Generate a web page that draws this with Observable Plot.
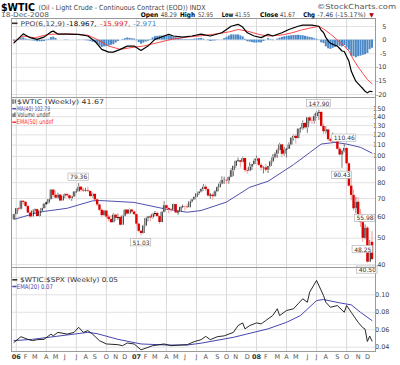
<!DOCTYPE html>
<html><head><meta charset="utf-8">
<script src="https://cdn.jsdelivr.net/npm/d3@7"></script>
<script src="https://cdn.jsdelivr.net/npm/@observablehq/plot@0.6"></script>
<style>
html,body{margin:0;padding:0;background:#fff}
#chart{position:relative;width:400px;height:365px;overflow:hidden;background:#fff;font-family:"DejaVu Sans",Verdana,sans-serif}
#chart svg{position:absolute;left:0}
</style></head>
<body><div id="chart"></div>
<script>
// ---------- DATA (weekly bars, Fri 2005-12-30 .. Fri 2008-12-19) ----------
const openP = [58.50,61.04,64.21,63.92,68.35,67.76,65.37,61.84,59.88,62.91,
63.67,60.08,62.82,64.26,66.63,67.39,69.32,75.17,71.88,70.19,
72.04,68.53,71.37,72.33,71.63,69.89,70.87,73.93,74.09,77.03,
75.07,74.54,74.76,74.35,71.14,72.51,69.20,66.25,63.33,60.55,
62.91,59.76,58.57,57.02,60.75,59.14,59.58,55.81,60.27,63.43,
61.37,63.43,62.41,61.05,56.31,52.99,52.02,55.42,59.02,59.89,
59.39,61.14,61.64,60.05,57.11,62.28,65.87,64.28,63.63,63.38,
66.46,61.93,62.37,64.94,65.20,65.08,64.76,68.00,69.18,70.68,
72.81,73.93,75.57,77.02,75.48,71.47,71.98,71.09,74.04,76.70,
79.10,81.62,81.66,81.22,83.69,88.60,91.86,95.93,96.32,95.10,
98.18,88.71,88.28,91.27,93.31,96.00,97.91,92.69,90.57,90.71,
88.96,91.77,95.50,98.81,101.84,105.15,110.21,101.84,105.62,106.23,
110.14,116.69,118.52,116.32,125.96,126.29,132.19,127.35,138.54,134.86,
134.62,140.21,144.29,145.08,128.88,123.26,125.10,115.20,113.77,114.59,
115.46,106.23,101.18,104.55,106.89,93.88,77.70,71.85,64.15,67.81,
61.04,57.04,49.93,54.43,40.81,48.29];
const highP = [61.20,64.40,64.80,68.80,68.70,68.10,65.80,62.40,63.40,64.10,
63.90,63.20,64.50,67.10,68.00,69.50,75.35,75.20,74.40,73.20,
72.30,71.80,73.00,73.20,71.90,71.40,74.10,75.80,79.36,77.30,
76.20,76.40,77.20,74.50,73.30,72.80,69.70,66.60,64.20,63.40,
63.00,60.80,60.40,61.60,61.20,61.40,60.30,60.70,63.80,63.60,
64.00,63.90,62.90,61.30,56.70,53.40,55.80,59.30,60.10,60.70,
61.70,62.70,62.40,60.20,62.60,68.10,66.20,64.90,64.40,66.90,
66.60,63.00,65.20,66.20,65.70,66.70,68.20,69.50,70.90,72.90,
74.10,76.00,78.77,78.30,75.90,73.00,72.60,74.80,77.40,80.20,
84.10,83.90,81.90,84.10,90.07,92.22,96.24,98.62,96.70,99.29,
98.40,90.50,94.70,93.60,97.80,100.09,98.40,94.40,91.60,93.50,
92.00,96.10,101.32,103.05,106.54,111.80,110.70,108.00,107.00,112.21,
117.00,119.93,120.00,126.20,127.80,135.09,133.00,139.12,139.90,139.40,
142.99,145.85,147.90,146.40,131.60,128.40,125.60,116.50,121.80,120.00,
116.20,107.80,105.00,110.46,107.20,94.70,83.50,75.20,70.80,70.60,
63.80,58.80,55.98,55.10,49.00,52.95];
const lowP = [58.20,60.90,62.60,63.40,66.30,64.90,61.60,59.20,59.50,61.70,
59.90,59.60,61.80,63.90,65.90,66.80,69.10,70.50,69.90,69.60,
68.00,68.30,69.90,70.40,68.90,68.30,70.60,72.90,73.80,73.80,
73.70,73.90,73.60,70.60,70.30,68.80,65.30,62.80,59.50,60.20,
58.90,57.50,56.60,56.90,57.60,58.20,55.40,55.60,59.90,60.80,
61.00,61.60,60.50,55.10,52.40,51.03,51.60,55.00,57.40,57.50,
58.80,60.00,59.70,56.30,56.90,61.90,63.60,61.40,62.40,63.10,
61.70,60.70,62.10,64.20,63.00,64.00,64.50,67.30,68.80,70.20,
71.80,73.40,74.50,74.30,70.90,69.50,69.00,70.80,73.60,76.40,
78.60,78.90,78.80,79.00,83.40,84.30,90.40,94.80,90.60,94.70,
87.20,86.10,87.70,88.70,92.90,95.60,91.80,88.50,86.11,87.50,
86.50,91.00,94.50,97.90,98.30,104.60,98.70,100.00,98.70,105.90,
109.40,114.00,111.00,115.90,121.60,124.60,125.60,121.60,131.50,131.00,
131.40,138.40,135.50,128.20,120.40,121.00,113.60,111.30,112.20,113.20,
105.50,100.40,90.43,103.10,93.10,77.10,68.60,63.00,61.50,60.70,
54.70,48.25,49.30,40.50,40.80,41.55];
const closeP = [61.04,64.21,63.92,68.35,67.76,65.37,61.84,59.88,62.91,63.67,
60.08,62.82,64.26,66.63,67.39,69.32,75.17,71.88,70.19,72.04,
68.53,71.37,72.33,71.63,69.89,70.87,73.93,74.09,77.03,75.07,
74.54,74.76,74.35,71.14,72.51,69.20,66.25,63.33,60.55,62.91,
59.76,58.57,57.02,60.75,59.14,59.58,55.81,60.27,63.43,61.37,
63.43,62.41,61.05,56.31,52.99,52.02,55.42,59.02,59.89,59.39,
61.14,61.64,60.05,57.11,62.28,65.87,64.28,63.63,63.38,66.46,
61.93,62.37,64.94,65.20,65.08,64.76,68.00,69.18,70.68,72.81,
73.93,75.57,77.02,75.48,71.47,71.98,71.09,74.04,76.70,79.10,
81.62,81.66,81.22,83.69,88.60,91.86,95.93,96.32,95.10,98.18,
88.71,88.28,91.27,93.31,96.00,97.91,92.69,90.57,90.71,88.96,
91.77,95.50,98.81,101.84,105.15,110.21,101.84,105.62,106.23,110.14,
116.69,118.52,116.32,125.96,126.29,132.19,127.35,138.54,134.86,134.62,
140.21,144.29,145.08,128.88,123.26,125.10,115.20,113.77,114.59,115.46,
106.23,101.18,104.55,106.89,93.88,77.70,71.85,64.15,67.81,61.04,
57.04,49.93,54.43,40.81,46.28,41.67];

// MA(40): [week index, value]
const ma40 = [[0,58.6],[11,62.4],[23,64.4],[34,68.6],[37,68.8],[52,67.7],[66,63.9],[75,62.3],[81,63.2],[92,67.9],[102,76.9],[110,81.0],[121,93.2],[128,103.2],[133,111.0],[139,112.6],[144,111.0],[150,108.0],[155,102.79]];

// PPO(6,12,9)
const ppoLine = [[0,-1.0],[4,2.3],[7,0.9],[10,0.25],[13,1.1],[16,3.0],[17,3.3],[19,2.2],[23,2.2],[28,2.1],[32,1.5],[35,-0.4],[38,-3.4],[41,-4.4],[43,-4.4],[46,-3.4],[49,-2.2],[52,-2.2],[55,-3.8],[58,-2.2],[61,0.25],[65,1.5],[67,2.1],[69,1.5],[73,1.1],[77,1.5],[81,2.2],[85,1.5],[90,2.7],[94,5.1],[97,5.8],[99,4.8],[101,2.7],[104,1.5],[107,0.9],[110,2.1],[112,1.5],[116,2.7],[119,3.9],[123,5.1],[125,5.5],[129,5.5],[132,5.1],[133,3.6],[134,2.8],[135,1.0],[136,-0.3],[137,-1.2],[138,-1.5],[139,-1.9],[140,-2.2],[141,-3.1],[142,-4.0],[143,-4.2],[144,-6.0],[145,-7.7],[146,-11.4],[147,-13.3],[148,-15.1],[149,-16.0],[150,-16.9],[151,-17.8],[152,-18.8],[153,-19.4],[154,-18.8],[155,-18.967]];
const ppoSignal = [[0,-0.6],[4,1.5],[9,0.85],[15,2.1],[18,2.2],[23,2.3],[32,1.8],[36,0.25],[41,-2.2],[46,-3.4],[52,-2.6],[56,-2.2],[62,-1.0],[68,0.25],[75,1.1],[81,1.6],[86,2.1],[93,3.0],[97,3.9],[101,3.3],[106,2.1],[110,1.5],[116,1.9],[120,2.6],[124,3.6],[128,4.4],[131,4.9],[132,5.0],[133,4.6],[134,4.1],[135,3.5],[137,2.2],[139,0.8],[141,-0.8],[143,-2.2],[145,-4.0],[147,-7.2],[149,-9.9],[151,-12.2],[153,-14.5],[154,-15.3],[155,-15.997]];
const ppoHist = [-0.4,-0.1,0.3,0.5,0.8,0.4,0.2,-0.2,-0.3,-0.35,
-0.6,-0.6,-0.6,-0.5,-0.2,0.3,0.9,1.1,0.6,0.0,
0.0,0.0,-0.1,-0.1,0.0,0.0,0.0,0.05,0.1,0.05,
-0.1,-0.2,-0.3,-0.5,-0.8,-1.0,-1.6,-2.2,-2.7,-2.5,
-2.4,-2.2,-1.9,-1.7,-1.1,-0.5,0.0,0.25,0.5,0.8,
0.65,0.5,0.4,-0.2,-0.9,-1.5,-1.1,-0.7,-0.4,0.2,
0.8,1.3,1.4,1.5,1.5,1.5,1.5,1.5,1.3,1.1,
0.9,0.7,0.45,0.2,0.2,0.2,0.2,0.2,0.3,0.45,
0.55,0.6,0.3,0.05,-0.2,-0.5,-0.35,-0.25,-0.15,-0.05,
0.1,0.55,1.0,1.5,1.9,1.9,1.9,1.9,1.55,1.2,
0.3,-0.6,-0.75,-0.9,-1.1,-1.05,-1.0,-1.05,-0.5,0.05,
0.6,0.2,-0.2,0.0,0.4,0.7,1.0,1.2,1.4,1.5,
1.6,1.7,1.7,1.8,1.7,1.6,1.4,1.2,1.0,0.8,
0.5,0.3,0.1,-1.0,-1.3,-2.5,-3.2,-3.4,-3.0,-2.7,
-2.2,-2.3,-2.5,-2.0,-2.9,-3.7,-5.9,-6.1,-6.5,-6.1,
-5.9,-5.6,-5.4,-4.9,-3.5,-2.971];

// $WTIC:$SPX ratio and EMA(20)
const ratioLine = [[0,0.0455],[3,0.052],[6,0.049],[8,0.0475],[10,0.0486],[13,0.049],[16,0.055],[17,0.053],[19,0.057],[23,0.055],[26,0.057],[28,0.0628],[30,0.057],[32,0.059],[34,0.055],[37,0.0475],[40,0.0437],[45,0.0429],[47,0.0417],[49,0.0448],[52,0.0437],[55,0.037],[58,0.0398],[60,0.0417],[65,0.0437],[68,0.0417],[72,0.0425],[75,0.0429],[78,0.0463],[81,0.0486],[83,0.0524],[85,0.0486],[88,0.052],[91,0.053],[95,0.057],[97,0.0647],[99,0.0678],[100,0.061],[102,0.0647],[105,0.0678],[107,0.0667],[109,0.0705],[112,0.0762],[114,0.084],[115,0.0762],[118,0.082],[121,0.084],[123,0.0897],[125,0.0954],[127,0.0915],[128,0.103],[131,0.1164],[134,0.0992],[135,0.0915],[137,0.0857],[140,0.0877],[143,0.08],[144,0.0877],[146,0.08],[149,0.0685],[151,0.0624],[152,0.0607],[153,0.0466],[154,0.0527],[155,0.047]];
const ratioEma = [[0,0.0475],[8,0.049],[23,0.054],[32,0.057],[36,0.0555],[45,0.049],[55,0.0437],[66,0.0425],[75,0.0425],[81,0.0446],[95,0.0513],[110,0.061],[118,0.0685],[124,0.0762],[131,0.0934],[134,0.0946],[141,0.0908],[146,0.0885],[150,0.080],[155,0.0705]];

// swing-point annotations
const swingWeeks  = [28, 55, 132, 143, 142, 152, 151, 153];
const swingValues = [79.36, 51.03, 147.90, 110.46, 90.43, 55.98, 48.25, 40.50];
const swingSide   = ["H","L","H","H","L","H","L","L"];

// ticks
const ppoTicks = [5, 0, -5, -10, -15, -20];
const priceTicks = [40, 50, 60, 70, 80, 90, 100, 110, 120, 130, 140, 150];
const ratioTicks = [0.04, 0.06, 0.08, 0.10];
const ratioGrid = [0.04, 0.06, 0.08, 0.10, 0.12];
const monthTickLabels = ["06","F","M","A","M","J","J","A","S","O","N","D",
                         "07","F","M","A","M","J","J","A","S","O","N","D",
                         "08","F","M","A","M","J","J","A","S","O","N","D"];

// header texts
const quoteLabels = ["Open","High","Low","Close","Chg"];
const quoteValues = ["48.29","52.95","41.55","41.67","-7.46 (-15.17%)"];

// ---------- BUILD ----------
const FONT = "DejaVu Sans, Verdana, sans-serif";
const root = document.getElementById("chart");
const weeks = d3.utcFriday.range(new Date(Date.UTC(2005,11,30)), new Date(Date.UTC(2008,11,20)));
const xOpt = {type:"utc", domain:[weeks[0], weeks[weeks.length-1]], range:[13.5, 371.5], axis:null};
const baseStyle = {background:"transparent", overflow:"visible", fontFamily: FONT};
const monthStarts = weeks.filter((d,i) => i > 0 && d.getUTCMonth() !== weeks[i-1].getUTCMonth());
const quarterLines = monthStarts.filter(d => d.getUTCMonth() % 3 === 0);
const monthTicks = monthStarts.map((d,k) => ({date:d, label: monthTickLabels[k], year: d.getUTCMonth()===0}));
const pairs = arr => arr.map(([i,v]) => ({date: weeks[i], v}));
const GRID = "#e2e2e2", VGRID = "#dadada", FRAME = "#9a9a9a";

function place(svg, top, z){
  svg.style.position = "absolute"; svg.style.top = top + "px"; svg.style.left = "0px"; svg.style.zIndex = z;
  root.appendChild(svg);
}

// Panel 1: PPO
const hist = weeks.map((d,i) => ({date:d, h: ppoHist[i]}));
const p1 = Plot.plot({
  width:400, height:79, marginLeft:11, marginRight:25, marginTop:0, marginBottom:0,
  style: baseStyle,
  x: xOpt,
  y: {domain:[-21.1, 7.94], axis:null},
  marks: [
    Plot.ruleY(ppoTicks, {stroke:GRID}),
    Plot.ruleX(quarterLines, {stroke:VGRID}),
    Plot.ruleX(hist, {x:"date", y1:0, y2:"h", stroke:"#4a88c6", strokeWidth:2}),
    Plot.line(pairs(ppoSignal), {x:"date", y:"v", stroke:"#ff3333", strokeWidth:0.9}),
    Plot.line(pairs(ppoLine), {x:"date", y:"v", stroke:"#000", strokeWidth:1.2}),
    Plot.text(ppoTicks, {y:d=>d, text:d=>String(d), frameAnchor:"right", dx:11, textAnchor:"end", fontSize:6.5, fill:"#444"}),
    Plot.frame({stroke:FRAME})
  ]
});

// Panel 2: price
const bars = weeks.map((d,i) => ({date:d, o:openP[i], h:highP[i], l:lowP[i], c:closeP[i]}));
const upBars = bars.filter(b => b.c >= b.o);
const downBars = bars.filter(b => b.c < b.o);
const labelMarks = swingWeeks.flatMap((wi,k) => {
  const d = {date: weeks[wi], v: swingValues[k], t: swingValues[k].toFixed(2)};
  const dy = swingSide[k] === "H" ? -6.5 : 7;
  const hw = d.t.length * 1.8 + 1.2;
  return [
    Plot.rect([d], {x1:"date", x2:"date", y1:"v", y2:"v", insetLeft:-hw, insetRight:-hw, insetTop:-3.6, insetBottom:-3.6, dy, fill:"#fff", stroke:"#aaa", strokeWidth:0.6}),
    Plot.text([d], {x:"date", y:"v", text:"t", dy: dy + 0.2, fontSize:6, fill:"#333"})
  ];
});
const p2 = Plot.plot({
  width:400, height:170, marginLeft:11, marginRight:25, marginTop:0, marginBottom:0,
  style: baseStyle,
  x: xOpt,
  y: {type:"log", domain:[39.0, 164.7], axis:null},
  marks: [
    Plot.ruleY(priceTicks, {stroke:GRID}),
    Plot.ruleX(quarterLines, {stroke:VGRID}),
    Plot.line(pairs(ma40), {x:"date", y:"v", stroke:"#5050ad", strokeWidth:1}),
    Plot.ruleX(downBars, {x:"date", y1:"l", y2:"h", stroke:"#f2a0a0", strokeWidth:1}),
    Plot.ruleX(upBars, {x:"date", y1:"l", y2:"h", stroke:"#555", strokeWidth:0.8}),
    Plot.ruleX(upBars, {x:"date", y1:"o", y2:"c", stroke:"#111", strokeWidth:2.4}),
    Plot.ruleX(upBars.filter(b => b.c / b.o > 1.012), {x:"date", y1:"o", y2:"c", stroke:"#fff", strokeWidth:0.8, insetTop:0.7, insetBottom:0.7}),
    Plot.ruleX(downBars, {x:"date", y1:"o", y2:"c", stroke:"#e00000", strokeWidth:2.4}),
    ...labelMarks,
    Plot.text(priceTicks, {y:d=>d, text:d=>String(d), frameAnchor:"right", dx:10, textAnchor:"end", fontSize:6.5, fill:"#444"}),
    Plot.frame({stroke:FRAME})
  ]
});

// Panel 3: ratio
const p3 = Plot.plot({
  width:400, height:98, marginLeft:11, marginRight:25, marginTop:0, marginBottom:14,
  style: baseStyle,
  x: xOpt,
  y: {domain:[0.03507, 0.13127], axis:null},
  marks: [
    Plot.ruleY(ratioGrid, {stroke:GRID}),
    Plot.ruleX(quarterLines, {stroke:VGRID}),
    Plot.line(pairs(ratioEma), {x:"date", y:"v", stroke:"#4646b0", strokeWidth:1}),
    Plot.line(pairs(ratioLine), {x:"date", y:"v", stroke:"#111", strokeWidth:0.9}),
    Plot.text(ratioTicks, {y:d=>d, text:d=>d.toFixed(2), frameAnchor:"right", dx:14, textAnchor:"end", fontSize:6.5, fill:"#444"}),
    Plot.text(monthTicks.filter(d => d.year), {x:"date", text:"label", frameAnchor:"bottom", dy:7, fontSize:6.5, fontWeight:"bold", fill:"#333"}),
    Plot.text(monthTicks.filter(d => !d.year), {x:"date", text:"label", frameAnchor:"bottom", dy:7, fontSize:6.5, fill:"#555"}),
    Plot.frame({stroke:FRAME})
  ]
});

place(p1, 18, 1);
place(p3, 267, 1);
place(p2, 97, 2);

// ---------- Overlay texts (title, quote line, legends) ----------
const ov = d3.create("svg").attr("width",400).attr("height",365).attr("font-family",FONT)
  .style("position","absolute").style("top","0px").style("left","0px").style("z-index",10).style("pointer-events","none");
function txt(x, y, s, {size=6.5, fill="#333", weight="normal", len=null} = {}){
  const t = ov.append("text").attr("x",x).attr("y",y).attr("font-size",size).attr("fill",fill).attr("font-weight",weight).text(s);
  if (len) t.attr("textLength",len).attr("lengthAdjust","spacingAndGlyphs");
  return t;
}
function dash(x1, x2, y, color, w=1.5){
  ov.append("line").attr("x1",x1).attr("x2",x2).attr("y1",y).attr("y2",y).attr("stroke",color).attr("stroke-width",w);
}
// title
txt(1, 10.5, "$WTIC", {size:10.5, fill:"#000", weight:"bold", len:34});
txt(38.5, 10, "(Oil - Light Crude - Continuous Contract (EOD)) INDX", {size:7, fill:"#444", len:167});
txt(317, 8.5, "\u00A9StockCharts.com", {size:7, fill:"#555", len:79});
txt(1, 17, "18-Dec-2008", {size:6.5, fill:"#555", len:48});
const qLabX = [140.7, 180, 221.7, 260, 303.3], qLabL = [17.5, 15, 11.6, 18.3, 11.7];
const qValX = [160.7, 198, 235, 280, 317.3], qValL = [16, 15, 15, 15, 48.4];
quoteLabels.forEach((s,k) => txt(qLabX[k], 16.7, s, {size:6.5, fill:"#000", weight:"bold", len:qLabL[k]}));
quoteValues.forEach((s,k) => txt(qValX[k], 16.7, s, {size:6.5, fill:"#444", len:qValL[k]}));
txt(369.3, 16.5, "\u25BC", {size:6, fill:"#b00000"});

// PPO legend
dash(12, 17.5, 23.3, "#333", 1.6);
txt(20.5, 26, "PPO(6,12,9)", {size:6.5, fill:"#444", len:44.5});
txt(66.5, 26, "-18.967,", {size:6.5, fill:"#000", len:30});
txt(100, 26, "-15.997,", {size:6.5, fill:"#e02020", len:30.5});
txt(133, 26, "-2.971", {size:6.5, fill:"#3a7fc1", len:23.5});

// Price legend
ov.append("line").attr("x1",13).attr("x2",13).attr("y1",99).attr("y2",104).attr("stroke","#333").attr("stroke-width",1);
ov.append("line").attr("x1",15.2).attr("x2",15.2).attr("y1",99.5).attr("y2",103.5).attr("stroke","#333").attr("stroke-width",1);
txt(17, 104, "$WTIC (Weekly) 41.67", {size:6.5, fill:"#333", len:87});
dash(12.3, 16.3, 108.7, "#5050ad", 1.5);
txt(17, 110.8, "MA(40) 102.79", {size:6.5, fill:"#5050ad", len:33});
ov.append("rect").attr("x",12.5).attr("y",113.5).attr("width",1.2).attr("height",3.5).attr("fill","#555");
ov.append("rect").attr("x",14.3).attr("y",112.5).attr("width",1.2).attr("height",4.5).attr("fill","#555");
txt(17.3, 117.4, "Volume undef", {size:6.5, fill:"#444", len:32.7});
dash(12.3, 16.3, 122.2, "#ff3030", 1.5);
txt(16.8, 124.2, "EMA(50) undef", {size:6.5, fill:"#ff3030", len:36.5});

// Ratio legend
dash(12.3, 17.3, 279.8, "#333", 1.6);
txt(20, 282.3, "$WTIC:$SPX (Weekly) 0.05", {size:6.5, fill:"#333", len:98});
dash(12.3, 16.5, 286.5, "#4646b0", 1.5);
txt(16.8, 288.8, "EMA(20) 0.07", {size:6.5, fill:"#4646b0", len:36});

root.appendChild(ov.node());
</script>
</body></html>
